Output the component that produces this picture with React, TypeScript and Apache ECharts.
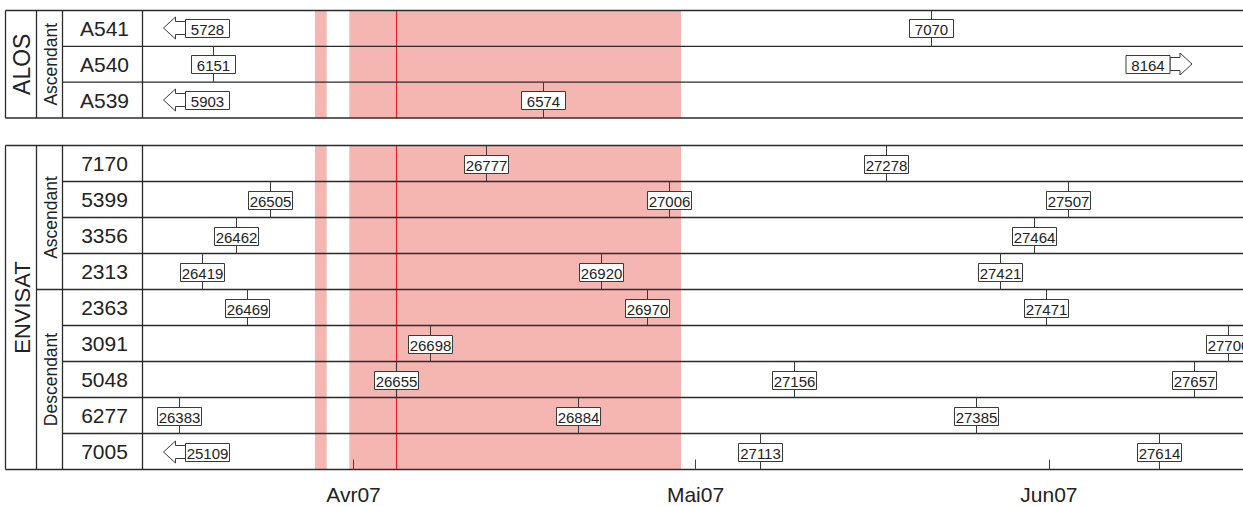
import React, { useEffect, useRef } from 'react';
import * as echarts from 'echarts';

// ---------------- data ----------------
const ALOS_TRACKS = ['A541', 'A540', 'A539'];
const ALOS_PASSES: [string, number][] = [['Ascendant', 3]];
const ENVISAT_TRACKS = ['7170', '5399', '3356', '2313', '2363', '3091', '5048', '6277', '7005'];
const ENVISAT_PASSES: [string, number][] = [['Ascendant', 4], ['Descendant', 5]];

// [track, orbit, acquisition date (UTC)]
const ALOS_ACQ: [string, string, string][] = [
  ['A541', '7070', '2007-05-21 16:19'],
  ['A540', '6151', '2007-03-19 15:36'],
  ['A539', '6574', '2007-04-17 15:36'],
];
// acquisitions outside the displayed period: [track, orbit, 'before' | 'after']
const ALOS_OUT: [string, string, string][] = [
  ['A541', '5728', 'before'],
  ['A540', '8164', 'after'],
  ['A539', '5903', 'before'],
];

const ENVISAT_ACQ: [string, string, string][] = [
  ['7170', '26777', '2007-04-12 15:36'],
  ['7170', '27278', '2007-05-17 17:02'],
  ['5399', '26505', '2007-03-24 16:19'],
  ['5399', '27006', '2007-04-28 16:48'],
  ['5399', '27507', '2007-06-02 16:19'],
  ['3356', '26462', '2007-03-21 16:05'],
  ['3356', '27464', '2007-05-30 16:34'],
  ['2313', '26419', '2007-03-18 16:19'],
  ['2313', '26920', '2007-04-22 17:02'],
  ['2313', '27421', '2007-05-27 17:02'],
  ['2363', '26469', '2007-03-22 15:50'],
  ['2363', '26970', '2007-04-26 17:17'],
  ['2363', '27471', '2007-05-31 17:17'],
  ['3091', '26698', '2007-04-07 16:19'],
  ['3091', '27700', '2007-06-16 16:19'],
  ['5048', '26655', '2007-04-04 17:31'],
  ['5048', '27156', '2007-05-09 16:05'],
  ['5048', '27657', '2007-06-13 16:48'],
  ['6277', '26383', '2007-03-16 17:17'],
  ['6277', '26884', '2007-04-20 17:17'],
  ['6277', '27385', '2007-05-25 15:07'],
  ['7005', '27113', '2007-05-06 16:19'],
  ['7005', '27614', '2007-06-10 15:50'],
];
const ENVISAT_OUT: [string, string, string][] = [['7005', '25109', 'before']];

const TICK_DATES = ['2007-04-01 00:00', '2007-05-01 00:00', '2007-06-01 00:00'];
const TICK_LABELS = ['Avr07', 'Mai07', 'Jun07'];
const AXIS_START = '2007-03-13 11:47';
const AXIS_END = '2007-06-23 00:37';
const SHADED_PERIODS: [string, string][] = [
  ['2007-03-28 14:57', '2007-03-29 15:34'],
  ['2007-03-31 15:10', '2007-04-29 17:28'],
];
const EVENT_DATES = ['2007-04-04 16:50'];

// ---------------- layout / style ----------------
const FONT = '"Liberation Sans", Arial, Helvetica, sans-serif';
const CHART_W = 1300;
const COL_OUTER = 5.5;
const COL_SAT = 36.5;
const COL_PASS = 62.5;
const COL_PLOT = 142.5;
const RIGHT_ARROW_TIP = 1192;
const LINE_COLOR = '#2b2b2b';
const TEXT_COLOR = '#222';
const BAND_COLOR = '#f5b6b2';
const EVENT_COLOR = '#e8232a';

const ts = (s: string) => {
  const [d, t = '00:00'] = s.split(' ');
  const [y, m, dd] = d.split('-').map(Number);
  const [hh, mm] = t.split(':').map(Number);
  return Date.UTC(y, m - 1, dd, hh, mm);
};
const X_MIN = ts(AXIS_START);
const X_MAX = ts(AXIS_END);
const TICK_TS = TICK_DATES.map(ts);

const PANELS = [
  { name: 'ALOS', tracks: ALOS_TRACKS, passes: ALOS_PASSES, acq: ALOS_ACQ, out: ALOS_OUT, top: 10.5, rowH: 35.83 },
  { name: 'ENVISAT', tracks: ENVISAT_TRACKS, passes: ENVISAT_PASSES, acq: ENVISAT_ACQ, out: ENVISAT_OUT, top: 145.5, rowH: 36 },
];

function buildOption() {
  const graphics: any[] = [];
  const hline = (y: number, x1: number) =>
    graphics.push({ type: 'line', z: 50, silent: true, shape: { x1, y1: y, x2: CHART_W, y2: y }, style: { stroke: LINE_COLOR, lineWidth: 1.3 } });
  const vline = (x: number, y1: number, y2: number) =>
    graphics.push({ type: 'line', z: 50, silent: true, shape: { x1: x, y1, x2: x, y2 }, style: { stroke: LINE_COLOR, lineWidth: 1.3 } });
  const vtext = (text: string, x: number, y: number, size: number) =>
    graphics.push({
      type: 'text', z: 50, silent: true, x, y, rotation: Math.PI / 2,
      style: { text, fontSize: size, fontFamily: FONT, fill: TEXT_COLOR, align: 'center', verticalAlign: 'middle' },
    });

  PANELS.forEach((p) => {
    const n = p.tracks.length;
    const bottom = p.top + n * p.rowH;
    hline(p.top, COL_OUTER);
    hline(bottom, COL_OUTER);
    const passBounds: number[] = [];
    let acc = 0;
    p.passes.forEach(([, c]) => { acc += c; passBounds.push(acc); });
    for (let i = 1; i < n; i++) {
      hline(p.top + i * p.rowH, passBounds.includes(i) ? COL_SAT : COL_PASS);
    }
    [COL_OUTER, COL_SAT, COL_PASS, COL_PLOT].forEach((x) => vline(x, p.top, bottom));
    vtext(p.name, (COL_OUTER + COL_SAT) / 2 + 1, (p.top + bottom) / 2, p.name === 'ALOS' ? 23 : 22);
    let start = 0;
    p.passes.forEach(([name, c]) => {
      const y0 = p.top + start * p.rowH;
      const y1 = p.top + (start + c) * p.rowH;
      vtext(name, (COL_SAT + COL_PASS) / 2 + 1, (y0 + y1) / 2, 17.5);
      start += c;
    });
  });

  const grids = PANELS.map((p) => ({
    left: COL_PLOT, top: p.top, width: CHART_W - COL_PLOT, height: p.tracks.length * p.rowH,
  }));

  const xAxes = PANELS.map((p, i) => ({
    type: 'value', gridIndex: i, min: X_MIN, max: X_MAX, z: 60,
    axisLine: { show: false },
    splitLine: { show: false },
    axisTick: i === 1
      ? { show: true, inside: true, length: 10, customValues: TICK_TS, lineStyle: { color: '#444', width: 1 } }
      : { show: false },
    axisLabel: i === 1
      ? {
          show: true, customValues: TICK_TS, fontSize: 21, color: TEXT_COLOR, fontFamily: FONT, margin: 14,
          formatter: (v: number) => {
            let best = 0;
            TICK_TS.forEach((t, k) => { if (Math.abs(t - v) < Math.abs(TICK_TS[best] - v)) best = k; });
            return TICK_LABELS[best];
          },
        }
      : { show: false },
  }));

  const yAxes = PANELS.map((p, i) => ({
    type: 'category', gridIndex: i, data: p.tracks, inverse: true,
    axisLine: { show: false }, axisTick: { show: false }, splitLine: { show: false },
    axisLabel: { fontSize: 21, color: TEXT_COLOR, fontFamily: FONT, align: 'center', margin: 38 },
  }));

  const series: any[] = [];
  PANELS.forEach((p, i) => {
    series.push({
      type: 'line', xAxisIndex: i, yAxisIndex: i, data: [], z: 1, silent: true,
      markArea: {
        silent: true,
        itemStyle: { color: BAND_COLOR, opacity: 1 },
        label: { show: false },
        data: SHADED_PERIODS.map(([a, b]) => [{ xAxis: ts(a) }, { xAxis: ts(b) }]),
      },
    });
    // event date: red vertical line across the panel
    series.push({
      type: 'custom', xAxisIndex: i, yAxisIndex: i, z: 20, clip: false, silent: true,
      data: EVENT_DATES.map((d) => [ts(d), 0]),
      renderItem: (params: any, api: any) => {
        const x = Math.round(api.coord([api.value(0), 0])[0]) + 0.5;
        const cs = params.coordSys;
        return {
          type: 'line',
          shape: { x1: x, y1: cs.y, x2: x, y2: cs.y + cs.height },
          style: { stroke: EVENT_COLOR, lineWidth: 1.2 },
        };
      },
    });
    const acq = p.acq;
    series.push({
      type: 'custom', xAxisIndex: i, yAxisIndex: i, z: 100, clip: false, silent: true,
      data: acq.map(([t, , d]) => [ts(d), p.tracks.indexOf(t)]),
      renderItem: (params: any, api: any) => {
        const pt = api.coord([api.value(0), api.value(1)]);
        const h = api.size([0, 1])[1];
        const cx = Math.round(pt[0]) + 0.5;
        const cy = pt[1];
        return {
          type: 'group',
          children: [
            { type: 'line', shape: { x1: cx, y1: cy - h / 2, x2: cx, y2: cy + h / 2 }, style: { stroke: '#3a3a3a', lineWidth: 1 } },
            { type: 'rect', shape: { x: cx - 22, y: Math.round(cy) - 8.5, width: 44, height: 18 }, style: { fill: '#fff', stroke: '#3a3a3a', lineWidth: 1 } },
            {
              type: 'text', x: cx, y: Math.round(cy) + 1,
              style: { text: acq[params.dataIndex][1], align: 'center', verticalAlign: 'middle', fontSize: 15, fontFamily: FONT, fill: TEXT_COLOR },
            },
          ],
        };
      },
    });
    const out = p.out;
    if (out.length) {
      series.push({
        type: 'custom', xAxisIndex: i, yAxisIndex: i, z: 100, clip: false, silent: true,
        data: out.map(([t, , dir]) => [dir === 'before' ? X_MIN : X_MAX, p.tracks.indexOf(t)]),
        renderItem: (params: any, api: any) => {
          const cy = Math.round(api.coord([X_MIN, api.value(1)])[1]);
          const [, orbit, dir] = out[params.dataIndex];
          const left = dir === 'before';
          const tip = left ? params.coordSys.x + 21 : RIGHT_ARROW_TIP;
          const s = left ? 1 : -1;
          const pts = [
            [tip, cy], [tip + s * 12, cy - 11], [tip + s * 12, cy - 6.5], [tip + s * 22, cy - 6.5],
            [tip + s * 22, cy + 6.5], [tip + s * 12, cy + 6.5], [tip + s * 12, cy + 11],
          ];
          const boxX = left ? tip + 22 : tip - 66;
          return {
            type: 'group',
            children: [
              { type: 'polygon', shape: { points: pts }, style: { fill: '#fff', stroke: '#3a3a3a', lineWidth: 1 } },
              { type: 'rect', shape: { x: boxX, y: cy - 8.5, width: 44, height: 18 }, style: { fill: '#fff', stroke: '#3a3a3a', lineWidth: 1 } },
              {
                type: 'text', x: boxX + 22, y: cy + 1,
                style: { text: orbit, align: 'center', verticalAlign: 'middle', fontSize: 15, fontFamily: FONT, fill: TEXT_COLOR },
              },
            ],
          };
        },
      });
    }
  });

  return {
    animation: false,
    backgroundColor: '#fff',
    grid: grids,
    xAxis: xAxes,
    yAxis: yAxes,
    series,
    graphic: { elements: graphics },
  };
}

export default function App() {
  const ref = useRef<HTMLDivElement>(null);
  useEffect(() => {
    if (!ref.current) return;
    const chart = echarts.init(ref.current, undefined, { renderer: 'svg' });
    chart.setOption(buildOption() as any);
    return () => chart.dispose();
  }, []);
  return (
    <div style={{ position: 'fixed', left: 0, top: 0, width: 1243, height: 506, overflow: 'hidden', background: '#fff' }}>
      <div ref={ref} style={{ width: CHART_W, height: 506 }} />
    </div>
  );
}
